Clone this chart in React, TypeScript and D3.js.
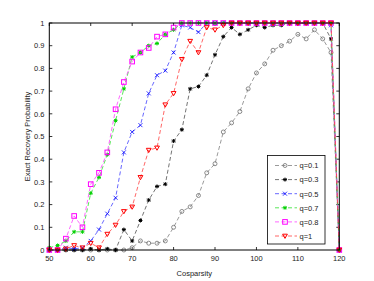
import * as d3 from 'd3'

// Cosparsity values (x axis)
const cosparsity = d3.range(50, 121, 2)

const seriesNames = ['q=0.1', 'q=0.3', 'q=0.5', 'q=0.7', 'q=0.8', 'q=1']

const q01 = [0, 0, 0, 0, 0, 0, 0, 0, 0, 0, 0.01, 0.04, 0.03, 0.03, 0.04, 0.1, 0.17, 0.19, 0.24, 0.34, 0.38, 0.52, 0.56, 0.61, 0.71, 0.78, 0.82, 0.88, 0.9, 0.92, 0.95, 0.93, 0.97, 0.93, 0.87, 0]
const q03 = [0, 0, 0, 0, 0, 0.005, 0, 0.005, 0, 0.09, 0.04, 0.13, 0.22, 0.28, 0.29, 0.48, 0.53, 0.71, 0.72, 0.77, 0.86, 0.94, 0.98, 0.95, 0.97, 0.99, 0.98, 0.99, 0.99, 1, 1, 1, 1, 1, 0.93, 0]
const q05 = [0, 0, 0.01, 0.005, 0.01, 0.04, 0.09, 0.16, 0.23, 0.43, 0.52, 0.55, 0.69, 0.77, 0.79, 0.87, 0.99, 0.98, 0.96, 1, 1, 1, 1, 1, 1, 1, 1, 1, 1, 1, 1, 1, 1, 1, 0.99, 0]
const q07 = [0.01, 0.02, 0.04, 0.08, 0.08, 0.25, 0.32, 0.42, 0.57, 0.71, 0.85, 0.87, 0.9, 0.91, 0.95, 0.97, 1, 1, 1, 1, 1, 1, 1, 1, 1, 1, 1, 1, 1, 1, 1, 1, 1, 1, 1, 0]
const q08 = [0, 0, 0.05, 0.15, 0.1, 0.29, 0.34, 0.43, 0.62, 0.74, 0.83, 0.87, 0.89, 0.94, 0.95, 0.98, 1, 1, 1, 1, 1, 1, 1, 1, 1, 1, 1, 1, 1, 1, 1, 1, 1, 1, 1, 0]
const q1 = [0, 0, 0.005, 0.02, 0.01, 0.03, 0.01, 0.07, 0.11, 0.17, 0.19, 0.32, 0.44, 0.45, 0.64, 0.69, 0.84, 0.92, 0.87, 0.98, 0.97, 0.99, 1, 1, 1, 1, 1, 1, 1, 1, 1, 1, 1, 1, 1, 0]

const seriesValues = [q01, q03, q05, q07, q08, q1]
const lineColors = ['#808080', '#505050', '#4040ff', '#30e030', '#ff40ff', '#ff4040']
const markerColors = ['#707070', '#000000', '#0000ff', '#00d000', '#ff00ff', '#ff0000']
const markerTypes = ['circle', 'star', 'x', 'star', 'square', 'tri']

const xTicks = [50, 60, 70, 80, 90, 100, 110, 120]
const yTicks = d3.range(0, 1.001, 0.1)

const W = 374
const H = 281
const left = 49.3
const right = 339.3
const top = 23
const bottom = 250

function Marker({ type, x, y, color }: { type: string; x: number; y: number; color: string }) {
  const s = 2
  if (type === 'circle') return <circle cx={x} cy={y} r={2} fill="none" stroke={color} strokeWidth={0.8} />
  if (type === 'square') return <rect x={x - 2.3} y={y - 2.3} width={4.6} height={4.6} fill="none" stroke={color} strokeWidth={1} />
  if (type === 'tri')
    return <path d={`M${x - 2.4},${y - 1.8}L${x + 2.4},${y - 1.8}L${x},${y + 2.4}Z`} fill="none" stroke={color} strokeWidth={1} />
  if (type === 'x')
    return (
      <path d={`M${x - s},${y - s}L${x + s},${y + s}M${x - s},${y + s}L${x + s},${y - s}`} stroke={color} strokeWidth={0.8} />
    )
  // star: asterisk
  return (
    <path
      d={`M${x - s},${y}L${x + s},${y}M${x},${y - s}L${x},${y + s}M${x - 1.5},${y - 1.5}L${x + 1.5},${y + 1.5}M${x - 1.5},${y + 1.5}L${x + 1.5},${y - 1.5}`}
      stroke={color}
      strokeWidth={1}
    />
  )
}

export default function App() {
  const x = d3.scaleLinear().domain([50, 120]).range([left, right])
  const y = d3.scaleLinear().domain([0, 1]).range([bottom, top])

  const line = d3
    .line<number>()
    .x((_, i) => x(cosparsity[i]))
    .y(d => y(d))

  const font = 'Arial, "Liberation Sans", sans-serif'
  const legX = 267.5
  const legY = 155.5
  const legW = 57.5
  const legH = 88.5

  return (
    <svg width={W} height={H} style={{ position: 'absolute', left: 0, top: 0, background: '#fff' }}>
      <rect x={0} y={0} width={W} height={H} fill="#fff" />

      {/* ticks on all sides, pointing inward */}
      <g stroke="#000" strokeWidth={0.8}>
        {xTicks.map(t => (
          <g key={'xt' + t}>
            <line x1={x(t)} x2={x(t)} y1={bottom} y2={bottom - 3} />
            <line x1={x(t)} x2={x(t)} y1={top} y2={top + 3} />
          </g>
        ))}
        {yTicks.map(t => (
          <g key={'yt' + t}>
            <line x1={left} x2={left + 3} y1={y(t)} y2={y(t)} />
            <line x1={right} x2={right - 3} y1={y(t)} y2={y(t)} />
          </g>
        ))}
      </g>

      {/* series */}
      {seriesValues.map((vals, si) => (
        <g key={seriesNames[si]}>
          <path
            d={line(vals) || ''}
            fill="none"
            stroke={lineColors[si]}
            strokeWidth={0.8}
            strokeDasharray="4,2.5"
          />
          {vals.map((v, i) => (
            <Marker key={i} type={markerTypes[si]} x={x(cosparsity[i])} y={y(v)} color={markerColors[si]} />
          ))}
        </g>
      ))}

      {/* axes box */}
      <rect x={left} y={top} width={right - left} height={bottom - top} fill="none" stroke="#000" strokeWidth={1} />

      {/* tick labels */}
      <g fontFamily={font} fontSize={7.5} fill="#222">
        {xTicks.map(t => (
          <text key={'xl' + t} x={x(t)} y={261} textAnchor="middle">
            {t}
          </text>
        ))}
        {yTicks.map(t => (
          <text key={'yl' + t} x={44.5} y={y(t) + 2.7} textAnchor="end">
            {t === 0 ? '0' : t >= 0.999 ? '1' : d3.format('.1f')(t)}
          </text>
        ))}
        <text x={(left + right) / 2} y={276} textAnchor="middle">
          Cosparsity
        </text>
        <text transform={`translate(29.5,${(top + bottom) / 2}) rotate(-90)`} textAnchor="middle">
          Exact Recovery Probability
        </text>
      </g>

      {/* legend */}
      <rect x={legX} y={legY} width={legW} height={legH} fill="#fff" stroke="#000" strokeWidth={0.8} />
      {seriesNames.map((name, si) => {
        const ly = legY + 10 + si * 14.1
        return (
          <g key={'leg' + name}>
            <line x1={275} x2={297} y1={ly} y2={ly} stroke={lineColors[si]} strokeWidth={0.8} strokeDasharray="4,2.5" />
            <Marker type={markerTypes[si]} x={285} y={ly} color={markerColors[si]} />
            <text x={299.5} y={ly + 2.8} fontFamily={font} fontSize={7.5} fill="#222">
              {name}
            </text>
          </g>
        )
      })}
    </svg>
  )
}
